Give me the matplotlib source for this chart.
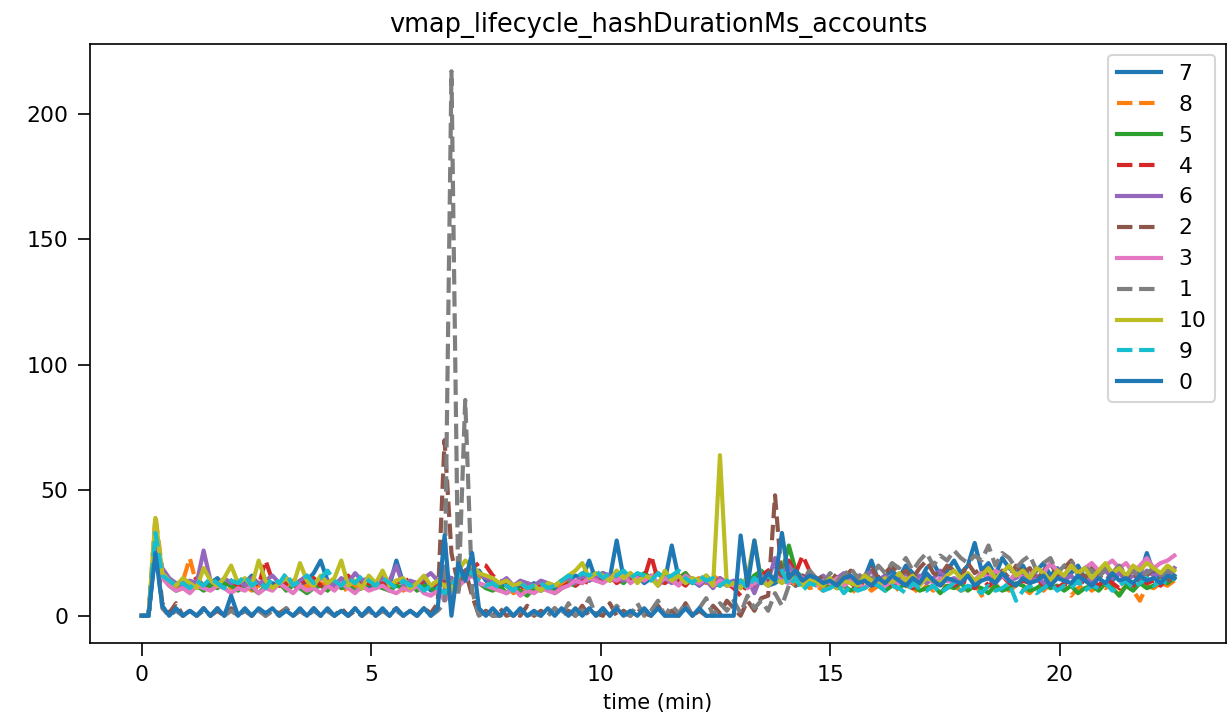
import numpy as np
import matplotlib
matplotlib.use("Agg")
import matplotlib.pyplot as plt

# sampling grid: 151 samples, 0.15 min apart
time_min = np.round(np.arange(151) * 0.15, 2)

s7 = [0, 0, 27,
      18, 14, 12, 13, 11, 14, 12,
      13, 15, 12, 14, 11, 13, 16, 12, 14, 13,
      12, 15, 13, 11, 14, 17, 22, 14, 12, 13,
      15, 12, 14, 11, 13, 16, 12, 22, 13, 11,
      12, 14, 10, 12,
      13, 15, 12, 17, 16, 18, 14,
      12, 11, 13, 10, 12, 11, 13, 10, 12,
      11, 13, 14, 16, 15, 22, 14, 16, 15, 30,
      15, 14, 16, 13, 15, 17, 14, 28, 15, 13,
      14, 12, 15, 13, 14, 12,
      13, 14, 12, 16, 14, 12, 13, 15, 14, 12, 16, 13,
      14, 13, 15, 12, 16, 14, 13, 15, 22, 14, 16, 18,
      15, 20, 17, 14, 19, 21, 16, 18, 22, 17,
      20, 29, 18, 21, 16, 23, 19, 17, 20, 15,
      18, 21, 16, 19, 14, 17, 20, 15, 18, 16,
      19, 14, 17, 15, 18, 16, 25, 17, 15, 18, 16]

s8 = [0, 0, 40, 18,
      13, 11, 14, 23, 12, 11, 13, 12, 14, 11,
      13, 12, 10, 12, 14, 11, 13, 12, 14, 11,
      12, 10, 13, 12, 11, 13, 9, 12, 11, 13,
      12, 14, 11, 13, 10, 12, 14, 11, 12, 13,
      12, 14, 11, 16, 18, 15, 13,
      11, 10, 12, 9, 11, 10, 12, 11, 13, 10,
      12, 14, 15, 13, 16, 15, 17, 14, 16, 15,
      17, 14, 16, 15, 18, 14, 16, 15, 17, 14,
      15, 13, 16, 14, 12,
      13, 11, 15, 12, 14, 16, 13, 20, 15, 12, 14, 11,
      12, 10, 13, 11, 12, 9, 11, 13, 10, 12,
      11, 13, 10, 12, 11, 9, 12, 10, 13, 11,
      12, 10, 11, 13, 8, 12, 11, 13, 10, 12,
      11, 9, 12, 10, 13, 11, 12, 8, 11, 13,
      10, 12, 11, 13, 9, 12, 10, 6, 12, 11,
      13, 12, 14]

s5 = [0, 0, 32, 16,
      12, 10, 11, 13, 12, 10, 12, 11, 13, 12,
      10, 12, 11, 9, 12, 11, 13, 10, 12, 11,
      9, 11, 12, 10, 13, 11, 12, 10, 11, 13,
      12, 11, 10, 12, 11, 13, 10, 12, 11, 9,
      7, 11, 15, 14, 17, 13, 11,
      10, 12, 9, 11, 10, 8, 11, 10, 12, 9,
      11, 13, 12, 15, 14, 16, 17, 14, 15, 13,
      16, 14, 17, 15, 13, 16, 14, 15, 17, 13,
      14, 16, 13, 12, 14,
      12, 14, 13, 16, 18, 15, 14, 17, 28, 18, 15, 13,
      14, 12, 13, 11, 12, 10, 12, 11, 13, 12,
      10, 12, 11, 13, 12, 10, 11, 12, 9, 12,
      11, 13, 10, 12, 11, 9, 12, 10, 11, 13,
      12, 10, 11, 13, 11, 12, 10, 12, 9, 11,
      12, 10, 13, 11, 8, 12, 10, 13, 11, 12,
      14, 13, 15]

s4 = [0, 0, 34, 17,
      13, 12, 14, 13, 15, 12, 14, 13, 11, 14,
      12, 13, 15, 12, 22, 14, 12, 13, 11, 14,
      13, 15, 12, 14, 11, 13, 16, 12, 14, 13,
      11, 13, 12, 14, 13, 15, 12, 14, 13, 12,
      14, 12, 16, 18, 19, 21, 20,
      16, 14, 13, 12, 11, 13, 10, 12, 11, 9,
      11, 13, 12, 14, 13, 15, 14, 16, 13, 15,
      14, 16, 15, 24, 14, 13, 15, 14, 12, 15,
      13, 14, 12, 15, 13,
      11, 8, 13, 12, 16, 18, 20, 16, 22, 17, 24, 18,
      15, 13, 14, 12, 15, 13, 11, 14, 12, 13,
      15, 12, 14, 13, 11, 14, 16, 12, 13, 15,
      12, 14, 13, 11, 15, 12, 14, 16, 13, 12,
      14, 13, 15, 12, 14, 11, 13, 12, 15, 13,
      14, 12, 15, 13, 11, 14, 12, 15, 13, 14,
      12, 15, 16]

s6 = [0, 0, 30, 19,
      15, 13, 12, 14, 13, 26, 14, 12, 15, 13,
      14, 12, 15, 13, 14, 16, 13, 15, 12, 14,
      16, 13, 15, 14, 12, 15, 13, 17, 14, 15,
      13, 15, 14, 20, 12, 14, 13, 15, 17, 14,
      16, 15, 13, 18, 20, 17, 15,
      14, 13, 15, 12, 14, 13, 12, 14, 13, 12,
      14, 15, 13, 16, 14, 15, 17, 16, 15, 14,
      16, 15, 14, 16, 12, 15, 13, 16, 14, 15,
      12, 14, 11, 15, 13,
      14, 12, 15, 9, 16, 14, 23, 17, 20, 16, 15, 17,
      14, 16, 13, 15, 17, 14, 16, 15, 18, 14,
      16, 13, 15, 17, 14, 16, 13, 15, 18, 14,
      15, 13, 16, 14, 17, 15, 13, 16, 14, 15,
      17, 14, 16, 13, 15, 17, 14, 16, 13, 15,
      14, 16, 18, 15, 17, 14, 16, 15, 18, 16,
      17, 15, 19]

s2 = [0, 0, 30, 5,
      1, 5, 0, 2, 0, 3, 0, 2, 0, 3,
      0, 2, 0, 3, 0, 2, 1, 3, 0, 2,
      0, 3, 0, 2, 0, 3, 0, 2, 0, 3,
      0, 2, 1, 3, 0, 2, 0, 3, 1, 5,
      70, 25, 12, 18, 8, 0, 2,
      0, 3, 0, 1, 0, 4, 0, 2, 0, 3,
      0, 2, 0, 4, 0, 1, 0, 5, 0, 2,
      0, 3, 1, 0, 4, 0, 2, 0, 5, 0,
      2, 0, 4, 1, 6,
      3, 0, 6, 2, 7, 8, 48, 14, 17, 12, 16, 13,
      14, 16, 13, 17, 15, 18, 14, 16, 19, 15,
      17, 20, 16, 18, 15, 19, 22, 17, 16, 20,
      18, 15, 21, 17, 19, 16, 14, 18, 15, 20,
      17, 19, 14, 18, 21, 16, 19, 22, 18, 15,
      19, 16, 14, 17, 20, 15, 18, 13, 16, 19,
      14, 15, 12]

s3 = [0, 0, 31, 15,
      12, 10, 11, 9, 12, 11, 10, 12, 11, 9,
      11, 10, 12, 9, 11, 10, 13, 11, 9, 12,
      10, 11, 9, 12, 10, 13, 11, 9, 12, 10,
      11, 12, 10, 9, 11, 10, 12, 9, 8, 10,
      6, 9, 12, 14, 16, 13, 12,
      11, 10, 9, 11, 8, 10, 9, 11, 10, 9,
      11, 12, 14, 13, 15, 14, 13, 15, 14, 16,
      13, 15, 14, 16, 13, 15, 14, 12, 16, 14,
      13, 15, 12, 14, 13,
      12, 14, 11, 13, 15, 12, 16, 14, 13, 17, 15, 14,
      12, 14, 13, 15, 12, 14, 13, 11, 14, 13,
      12, 14, 13, 15, 12, 14, 16, 13, 15, 14,
      13, 15, 16, 14, 17, 15, 18, 16, 14, 17,
      15, 16, 19, 17, 21, 18, 16, 20, 17, 19,
      21, 18, 20, 22, 19, 21, 17, 20, 23, 19,
      21, 22, 24]

s1 = [0, 0, 28, 3,
      0, 2, 0, 2, 0, 2, 0, 3, 0, 2,
      0, 2, 0, 2, 0, 2, 0, 3, 0, 2,
      0, 2, 0, 2, 0, 2, 0, 3, 0, 2,
      0, 2, 0, 2, 0, 2, 0, 3, 0, 2,
      5, 217, 8, 86, 10, 0, 2,
      0, 0, 1, 0, 2, 0, 1, 0, 0, 3,
      0, 5, 0, 2, 7, 0, 3, 0, 4, 1,
      0, 5, 0, 2, 6, 0, 4, 1, 5, 0,
      3, 7, 0, 5, 2,
      6, 1, 8, 3, 6, 2, 9, 4, 12, 16, 14, 18,
      15, 13, 17, 14, 16, 19, 15, 18, 14, 20,
      17, 21, 19, 23, 18, 22, 25, 20, 24, 22,
      26, 23, 21, 24, 22, 28, 20, 25, 23, 19,
      22, 24, 18, 21, 23, 17, 20, 22, 16, 19,
      18, 15, 19, 17, 20, 16, 18, 15, 17, 19,
      16, 18, 17]

s10 = [0, 0, 39, 17,
       14, 12, 15, 13, 11, 19, 14, 12, 15, 20,
       13, 15, 12, 22, 14, 11, 13, 15, 12, 21,
       14, 12, 16, 13, 15, 22, 12, 14, 11, 16,
       13, 18, 12, 14, 15, 11, 13, 16, 12, 14,
       12, 10, 18, 22, 20, 17, 16,
       15, 13, 14, 12, 13, 11, 12, 10, 13, 12,
       14, 16, 18, 21, 15, 17, 16, 14, 18, 15,
       17, 13, 16, 15, 12, 18, 14, 16, 13, 15,
       14, 16, 12, 64, 12,
       13, 11, 16, 30, 14, 12, 15, 13, 16, 14, 12, 15,
       13, 12, 15, 11, 14, 13, 12, 16, 14, 12,
       15, 13, 17, 14, 16, 12, 15, 14, 13, 16,
       18, 15, 17, 14, 16, 19, 15, 17, 20, 16,
       18, 15, 19, 17, 14, 18, 16, 20, 17, 19,
       15, 18, 21, 17, 19, 16, 20, 18, 21, 19,
       17, 20, 18]

s9 = [0, 0, 33, 16,
      14, 12, 13, 11, 14, 12, 15, 13, 11, 14,
      13, 16, 12, 14, 11, 15, 13, 17, 12, 14,
      16, 13, 15, 18, 14, 12, 15, 13, 16, 14,
      12, 15, 13, 11, 14, 12, 13, 10, 12, 11,
      9, 12, 16, 18, 17, 14, 12,
      13, 11, 12, 10, 13, 11, 12, 13, 11, 12,
      14, 16, 15, 17, 16, 18, 15, 17, 16, 18,
      15, 17, 16, 14, 17, 15, 16, 18, 15, 13,
      16, 14, 15, 12, 14,
      12, 14, 11, 15, 13, 16, 14, 18, 12, 15, 10, 13,
      12, 10, 11, 13, 9, 12, 10, 11, 13, 12,
      10, 12, 11, 9, 13, 11, 10, 12, 9, 11,
      13, 10, 12, 11, 9, 12, 10, 11, 13, 6,
      10, 12, 9, 11, 13, 10, 12, 11, 14, 10,
      12, 11, 13, 10, 12, 14, 11, 13, 15, 12,
      14, 13, 15]

s0 = [0, 0, 25, 4,
      0, 3, 0, 2, 0, 3, 0, 3, 0, 8,
      0, 3, 0, 3, 1, 3, 0, 2, 0, 3,
      0, 3, 0, 3, 0, 2, 0, 3, 0, 3,
      0, 3, 0, 3, 0, 2, 0, 3, 0, 3,
      32, 0, 21, 14, 25, 3, 0,
      3, 0, 3, 0, 3, 0, 2, 0, 3, 0,
      3, 0, 3, 0, 3, 0, 3, 0, 3, 0,
      2, 0, 3, 0, 3, 0, 0, 0, 3, 0,
      3, 0, 0, 0, 0,
      0, 32, 12, 30, 13, 17, 14, 33, 15, 18, 14, 16,
      15, 13, 14, 12, 15, 16, 13, 14, 12, 15,
      13, 16, 14, 12, 15, 13, 17, 14, 12, 15,
      14, 13, 16, 12, 14, 15, 13, 17, 14, 12,
      15, 13, 14, 16, 12, 15, 14, 13, 16, 14,
      12, 15, 13, 17, 14, 15, 13, 16, 14, 15,
      13, 16, 15]

series_labels = ["7", "8", "5", "4", "6", "2", "3", "1", "10", "9", "0"]
series_values = [s7, s8, s5, s4, s6, s2, s3, s1, s10, s9, s0]

title = "vmap_lifecycle_hashDurationMs_accounts"
xlabel = "time (min)"

W, H, DPI = 1227, 718, 150
fig = plt.figure(figsize=(W / DPI, H / DPI), dpi=DPI)
ax = fig.add_axes([90 / W, (H - 643) / H, (1226 - 90) / W, (643 - 44) / H])

colors = plt.rcParams["axes.prop_cycle"].by_key()["color"]
for k, (lab, vals) in enumerate(zip(series_labels, series_values)):
    assert len(vals) == len(time_min), (lab, len(vals))
    ls = "-" if k % 2 == 0 else "--"
    ax.plot(time_min, vals, color=colors[k % len(colors)], linestyle=ls,
            linewidth=2.0, label=lab)

ax.tick_params(axis="both", length=6, pad=4.5, labelsize=10.5)
ax.set_title(title, fontsize=12.3)
ax.set_xlabel(xlabel, fontsize=10)
ax.legend(loc="upper right", fontsize=10.5)
fig.savefig("out.png", dpi=DPI)
